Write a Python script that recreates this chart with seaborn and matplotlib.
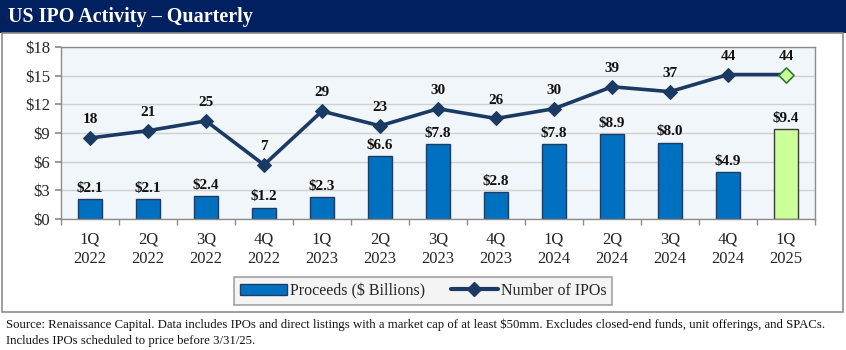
import numpy as np
import pandas as pd
import matplotlib
matplotlib.use("Agg")
import matplotlib.pyplot as plt
import seaborn as sns
from matplotlib.patches import Rectangle, Patch
from matplotlib.lines import Line2D

quarters = ["1Q\n2022", "2Q\n2022", "3Q\n2022", "4Q\n2022",
            "1Q\n2023", "2Q\n2023", "3Q\n2023", "4Q\n2023",
            "1Q\n2024", "2Q\n2024", "3Q\n2024", "4Q\n2024", "1Q\n2025"]
proceeds = [2.1, 2.1, 2.4, 1.2, 2.3, 6.6, 7.8, 2.8, 7.8, 8.9, 8.0, 4.9, 9.4]
num_ipos = [18, 21, 25, 7, 29, 23, 30, 26, 30, 39, 37, 44, 44]
y_ticks = [0, 3, 6, 9, 12, 15, 18]

BLUE = "#0070c0"
NAVY = "#1a3a63"
GREEN = "#ccff99"
SERIF = ["Liberation Serif", "DejaVu Serif"]

sns.set_theme(style="white")
plt.rcParams["font.family"] = SERIF

W, H = 846, 350
fig = plt.figure(figsize=(W / 100, H / 100), dpi=100)

# title bar and frame
fig.patches.append(Rectangle((0, 1 - 33 / H), 1, 33 / H, transform=fig.transFigure,
                             facecolor="#002060", edgecolor="none", zorder=0))
fig.patches.append(Rectangle((2 / W, 1 - 312 / H), 841 / W, (312 - 33) / H,
                             transform=fig.transFigure, facecolor="none",
                             edgecolor="#8c8c8c", linewidth=1.2, zorder=0))
fig.text(8 / W, 1 - 17 / H, "US IPO Activity \u2013 Quarterly", color="white",
         fontsize=14.5, fontweight="bold", va="center", ha="left")

ax = fig.add_axes([61 / W, 1 - 219 / H, (815 - 61) / W, (219 - 47) / H])
ax.set_facecolor("#f1f6fa")

x = np.arange(len(quarters))
df = pd.DataFrame({"q": quarters, "proceeds": proceeds, "ipos": num_ipos, "x": x})
colors = {q: BLUE for q in quarters}
colors[quarters[-1]] = GREEN
sns.barplot(data=df, x="q", y="proceeds", hue="q", palette=colors, legend=False,
            width=0.41, ax=ax, saturation=1, zorder=2)
for i, p in enumerate(ax.patches):
    p.set_edgecolor("#3a3a3a" if i == len(quarters) - 1 else "#1f3c64")
    p.set_linewidth(1.0)

for i, v in enumerate(proceeds):
    ax.annotate(f"${v:.1f}", (i, v), xytext=(0, 3), textcoords="offset points",
                ha="center", va="bottom", fontsize=11, fontweight="bold", color="#111111")

ax.set_ylim(0, 18)
ax.set_xlim(-0.5, len(quarters) - 0.5)
ax.set_yticks(y_ticks)
ax.set_yticklabels([f"${t}" for t in y_ticks], fontsize=12)
ax.yaxis.grid(True, color="#d0d0d0", linewidth=1)
ax.set_axisbelow(True)
ax.set_xticks(x)
ax.set_xticklabels(quarters, fontsize=12, linespacing=1.3)
ax.tick_params(axis="x", length=0, pad=9)
ax.set_xticks(np.arange(len(quarters) + 1) - 0.5, minor=True)
ax.tick_params(axis="x", which="minor", length=4, color="#8c8c8c", direction="out", bottom=True)
ax.tick_params(axis="y", length=4, color="#8c8c8c", direction="out", left=True, pad=4)
ax.set_xlabel("")
ax.set_ylabel("")
for s in ax.spines.values():
    s.set_color("#8c8c8c")
    s.set_linewidth(1)

ax2 = ax.twinx()
sns.lineplot(data=df, x="x", y="ipos", ax=ax2, color=NAVY, linewidth=2.6,
             marker="D", markersize=7.5, markeredgecolor=NAVY, markerfacecolor=NAVY, zorder=4)
sns.scatterplot(data=df.iloc[[-1]], x="x", y="ipos", ax=ax2, marker="D", s=60,
                color=GREEN, edgecolor="#2e7d32", linewidth=1.2, zorder=5)
for i, v in enumerate(num_ipos):
    ax2.annotate(f"{v}", (i, v), xytext=(0, 8.5), textcoords="offset points",
                 ha="center", va="bottom", fontsize=11, fontweight="bold", color="#111111")
ax2.set_ylim(-15.2, 55.3)
ax2.set_yticks([])
ax2.set_xlabel("")
ax2.set_ylabel("")
ax2.set_xlim(-0.5, len(quarters) - 0.5)
for s in ax2.spines.values():
    s.set_visible(False)

handles = [Patch(facecolor=BLUE, edgecolor="#1f3c64", label="Proceeds ($ Billions)"),
           Line2D([0], [0], color=NAVY, linewidth=3, marker="D", markersize=7,
                  label="Number of IPOs")]
leg = fig.legend(handles=handles, loc="center", bbox_to_anchor=(423 / W, 1 - 291 / H),
                 ncol=2, frameon=True, fontsize=11.5, fancybox=False,
                 handlelength=3.0, handletextpad=0.15, columnspacing=1.6,
                 borderpad=0.35)
leg.get_frame().set_facecolor("#f2f2f2")
leg.get_frame().set_edgecolor("#8c8c8c")
leg.get_frame().set_linewidth(1.2)

fig.text(6 / W, 1 - 325 / H,
         "Source: Renaissance Capital. Data includes IPOs and direct listings with a market cap of at least $50mm. "
         "Excludes closed-end funds, unit offerings, and SPACs.",
         fontsize=9.2, ha="left", va="center", color="#111111")
fig.text(6 / W, 1 - 341 / H, "Includes IPOs scheduled to price before 3/31/25.",
         fontsize=9.2, ha="left", va="center", color="#111111")

fig.savefig("out.png", dpi=100)
